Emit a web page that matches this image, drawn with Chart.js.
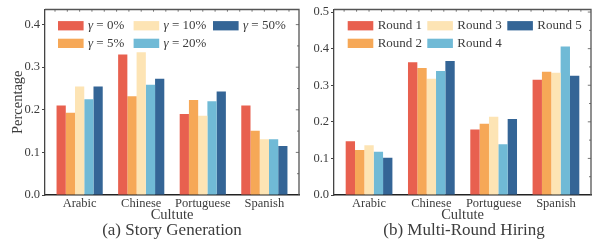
<!DOCTYPE html>
<html>
<head>
<meta charset="utf-8">
<script src="https://cdn.jsdelivr.net/npm/chart.js@4.4.0/dist/chart.umd.min.js"></script>
<style>
body { margin: 0; background: #fff; }
#wrap { position: relative; width: 594px; height: 246px; overflow: hidden; }
canvas { position: absolute; top: 0; }
.cap { position: absolute; top: 220px; width: 220px; font: 17px "Liberation Serif", serif; color: #3c3c3c; text-align: center; white-space: nowrap; }
</style>
</head>
<body>
<div id="wrap">
    <canvas id="story-chart" width="302" height="246" style="left:0"></canvas>
    <canvas id="hiring-chart" width="294" height="246" style="left:300px"></canvas>
    <div class="cap" style="left:62px">(a) Story Generation</div>
    <div class="cap" style="left:354px">(b) Multi-Round Hiring</div>
</div>
<script>
// values
var cultures = ["Arabic", "Chinese", "Portuguese", "Spanish"];

var gammaLabels = ["γ = 0%", "γ = 5%", "γ = 10%", "γ = 20%", "γ = 50%"];
var story0 = [0.210, 0.330, 0.190, 0.210];
var story5 = [0.193, 0.232, 0.223, 0.151];
var story10 = [0.255, 0.335, 0.186, 0.131];
var story20 = [0.225, 0.259, 0.220, 0.131];
var story50 = [0.255, 0.273, 0.243, 0.115];
var storyTicks = [0.0, 0.1, 0.2, 0.3, 0.4];

var roundLabels = ["Round 1", "Round 2", "Round 3", "Round 4", "Round 5"];
var round1 = [0.147, 0.363, 0.179, 0.315];
var round2 = [0.123, 0.347, 0.195, 0.337];
var round3 = [0.136, 0.318, 0.214, 0.334];
var round4 = [0.118, 0.339, 0.139, 0.406];
var round5 = [0.102, 0.366, 0.208, 0.326];
var hiringTicks = [0.0, 0.1, 0.2, 0.3, 0.4, 0.5];

var colors = ["#E8604F", "#F6A857", "#FDE4B4", "#70BAD6", "#346596"];
var FONT = "'Liberation Serif', serif";
var TEXT = "#3c3c3c";

var MakeDatasets = (labels, series) => {
    return series.map((vals, k) => ({
        label: labels[k],
        backgroundColor: colors[k],
        borderWidth: 0,
        data: vals.map((v, i) => ({ x: i, y: v }))
    }));
};

var DrawLabel = (ctx, text, x, y) => {
    ctx.fillStyle = TEXT;
    ctx.textBaseline = "middle";
    ctx.textAlign = "left";
    if (text.charAt(0) == "γ") {
        ctx.font = "italic 13px " + FONT;
        ctx.fillText("γ", x, y);
        var w = ctx.measureText("γ").width;
        ctx.font = "13px " + FONT;
        ctx.fillText(text.substring(1), x + w, y);
    } else {
        ctx.font = "13px " + FONT;
        ctx.fillText(text, x, y);
    }
};

var insideLegend = {
    id: "insideLegend",
    afterDraw: (chart, args, opts) => {
        var ctx = chart.ctx;
        var area = chart.chartArea;
        ctx.save();
        chart.data.datasets.forEach((ds, i) => {
            var col = Math.floor(i / 2);
            var row = i % 2;
            var x = area.left + opts.cols[col];
            var y = area.top + 16.2 + row * 17.6;
            ctx.fillStyle = ds.backgroundColor;
            ctx.fillRect(x, y - 4.6, 25.6, 9.3);
            DrawLabel(ctx, ds.label, x + 30, y);
        });
        ctx.restore();
    }
};

var frameTicks = {
    id: "frameTicks",
    afterDatasetsDraw: (chart) => {
        var ctx = chart.ctx;
        var a = chart.chartArea;
        var xs = chart.scales.x;
        var ys = chart.scales.y;
        ctx.save();
        ctx.strokeStyle = "#555";
        ctx.lineWidth = 1.3;
        ctx.beginPath();
        ctx.moveTo(a.left, a.top);
        ctx.lineTo(a.right, a.top);
        ctx.lineTo(a.right, a.bottom);
        ctx.stroke();
        ctx.lineWidth = 0.8;
        ctx.beginPath();
        for (var v = -0.4; v < xs.max; v += 0.2) {
            var px = xs.getPixelForValue(v);
            ctx.moveTo(px, a.top);
            ctx.lineTo(px, a.top + 2.2);
        }
        for (var j = 1; j * 0.05 < ys.max; j++) {
            var py = ys.getPixelForValue(j * 0.05);
            var len = j % 2 == 0 ? 3.2 : 2;
            ctx.moveTo(a.right, py);
            ctx.lineTo(a.right - len, py);
        }
        ctx.stroke();
        ctx.restore();
    }
};

var MakeChart = (id, labels, series, ticks, yMax, yWidth, yTitle, legendCols) => {
    var el = document.getElementById(id);
    return new Chart(el.getContext("2d"), {
        type: "bar",
        data: { datasets: MakeDatasets(labels, series) },
        plugins: [frameTicks, insideLegend],
        options: {
            responsive: false,
            animation: false,
            devicePixelRatio: 1,
            layout: { padding: { top: 5, right: 3, left: 0, bottom: 0 } },
            datasets: { bar: { categoryPercentage: 0.75, barPercentage: 1.0 } },
            plugins: {
                legend: { display: false },
                tooltip: { enabled: false },
                insideLegend: { cols: legendCols }
            },
            scales: {
                x: {
                    type: "linear",
                    min: -0.5625,
                    max: 3.5625,
                    offset: false,
                    grid: { display: false, offset: false },
                    border: { color: "#222", width: 1.5 },
                    afterBuildTicks: (scale) => {
                        scale.ticks = cultures.map((c, i) => ({ value: i }));
                    },
                    afterFit: (scale) => { scale.height = 51; },
                    ticks: {
                        autoSkip: false,
                        maxRotation: 0,
                        padding: -7,
                        color: TEXT,
                        font: { family: FONT, size: 12.5 },
                        callback: (v) => cultures[v]
                    },
                    title: {
                        display: true,
                        text: "Cultute",
                        color: TEXT,
                        font: { family: FONT, size: 14.5 },
                        padding: { top: 0, bottom: 22 }
                    }
                },
                y: {
                    min: 0,
                    max: yMax,
                    grid: { drawOnChartArea: false, tickLength: 3, tickColor: "#444", tickWidth: 1 },
                    border: { color: "#444", width: 1.3 },
                    afterBuildTicks: (scale) => {
                        scale.ticks = ticks.map((v) => ({ value: v }));
                    },
                    afterFit: (scale) => { scale.width = yWidth; },
                    ticks: {
                        padding: 2,
                        color: TEXT,
                        font: { family: FONT, size: 12.5 },
                        callback: (v) => v.toFixed(1)
                    },
                    title: {
                        display: yTitle != "",
                        text: yTitle,
                        color: TEXT,
                        font: { family: FONT, size: 14.5 },
                        padding: { top: 9.5, bottom: 0 }
                    }
                }
            }
        }
    });
};

MakeChart("story-chart", gammaLabels, [story0, story5, story10, story20, story50],
    storyTicks, 0.4355, 45, "Percentage", [13, 88.6, 168]);
MakeChart("hiring-chart", roundLabels, [round1, round2, round3, round4, round5],
    hiringTicks, 0.507, 34, "", [13.7, 93.3, 173.3]);
</script>
</body>
</html>
